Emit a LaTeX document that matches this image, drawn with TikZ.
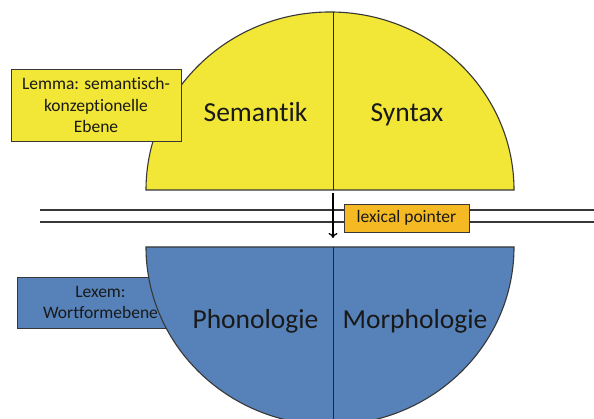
\documentclass[tikz,border=0pt]{standalone}
\usepackage{fontspec}
\setmainfont{Carlito}[Ligatures={NoCommon}]
\usetikzlibrary{arrows.meta}
\definecolor{lemyellow}{RGB}{242,230,55}
\definecolor{lexblue}{RGB}{86,130,185}
\definecolor{ptrorange}{RGB}{245,186,35}
\definecolor{edgegray}{RGB}{55,55,55}
\definecolor{txt}{RGB}{25,25,25}
\tikzset{
  halfshape/.style={draw=edgegray, line width=1.1pt},
  divider/.style={draw=black!85, line width=0.9pt},
  railline/.style={draw=edgegray, line width=1.7pt},
  bigtext/.style={font=\fontsize{27.5}{33}\selectfont, text=txt, inner sep=0pt, anchor=base},
  smallbox/.style={draw=edgegray, line width=0.8pt, align=center, inner sep=0pt,
    font=\fontsize{17.5}{21.5}\selectfont, text=txt},
  pointer/.style={draw=black, line width=1.3pt, -{To[length=5pt,width=9pt,line width=1.3pt]}}
}
\begin{document}
\begin{tikzpicture}[x=1pt,y=1pt]
\clip (0,0) rectangle (594,419);
\fill[white] (0,0) rectangle (594,419);
% double rail lines
\draw[railline] (40,209) -- (594,209);
\draw[railline] (40,197) -- (594,197);
% Lexem box (behind lower half)
\node[smallbox, fill=lexblue, minimum width=167, minimum height=51] (lexem) at (100.5,116.5) {Lexem:\\Wortformebene};
% upper half ellipse
\fill[lemyellow] (146,229) arc[start angle=180, end angle=0, x radius=184, y radius=178] -- cycle;
\draw[halfshape] (146,229) arc[start angle=180, end angle=0, x radius=184, y radius=178] -- cycle;
\draw[divider] (333,229) -- (333,406.9);
% lower half ellipse
\fill[lexblue] (146,172) arc[start angle=180, end angle=360, x radius=184, y radius=178] -- cycle;
\draw[halfshape] (146,172) arc[start angle=180, end angle=360, x radius=184, y radius=178] -- cycle;
\draw[divider] (333,172) -- (333,-10);
% labels
\node[bigtext] (sem) at (255.5,297) {Semantik};
\node[bigtext] (syn) at (407,297) {Syntax};
\node[bigtext] (pho) at (255.5,90) {Phonologie};
\node[bigtext] (mor) at (415,90) {Morphologie};
% Lemma box (on top)
\node[smallbox, fill=lemyellow, minimum width=170, minimum height=72] (lemma) at (96,314) {Lemma: semantisch-\\konzeptionelle\\Ebene};
% arrow
\coordinate (arrS) at (333,226);
\coordinate (arrE) at (333,181);
\draw[pointer] (arrS) -- (arrE);
% lexical pointer box
\node[smallbox, fill=ptrorange, minimum width=125, minimum height=28] (lp) at (406.5,201) {lexical pointer};
\end{tikzpicture}
\end{document}
